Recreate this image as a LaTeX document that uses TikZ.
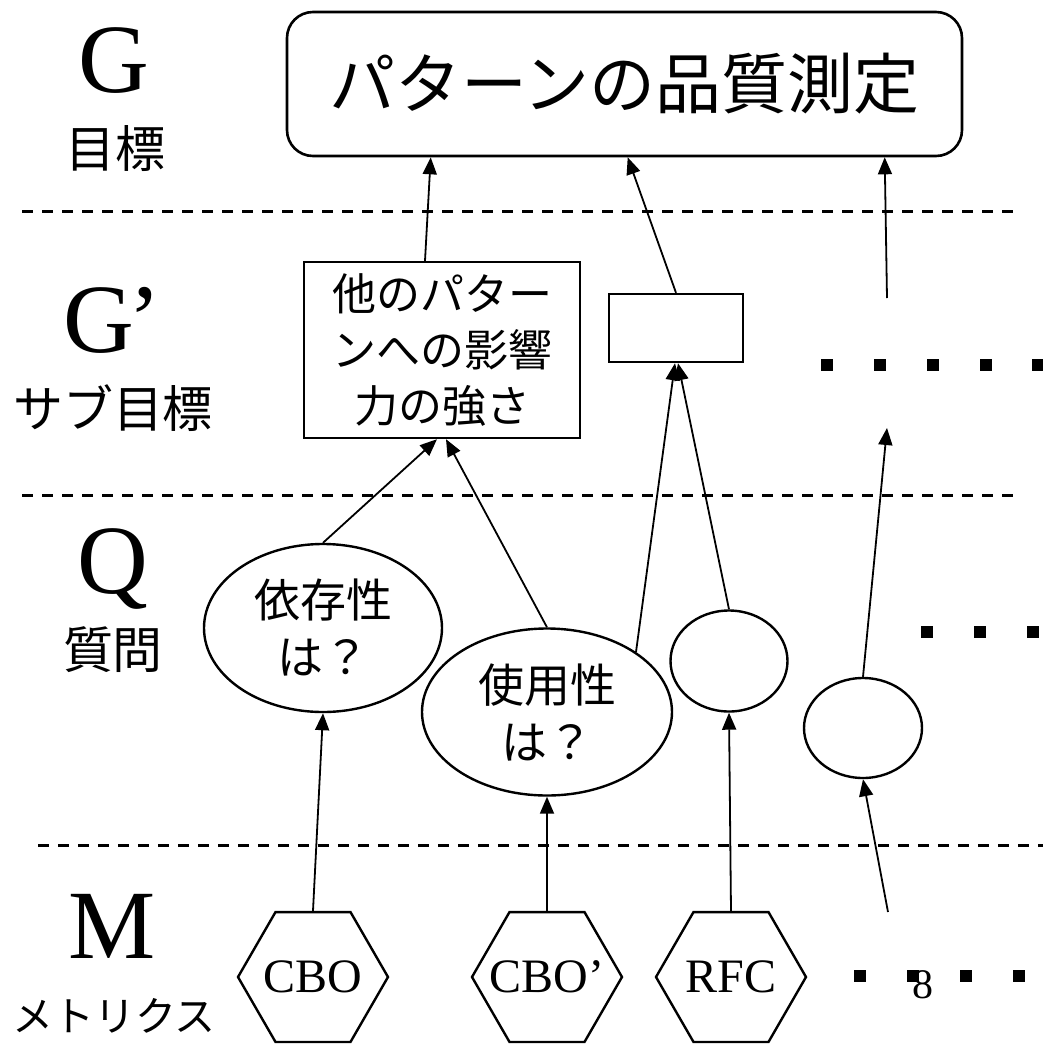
\documentclass[tikz,border=0pt]{standalone}
\usepackage{fontspec}
\setmainfont{Liberation Serif}
\newfontfamily\jpfont{Noto Sans CJK JP}
\usetikzlibrary{shapes.geometric,arrows.meta}
\tikzset{
  conn/.style={line width=1.8pt, -{Triangle[length=17pt,width=14pt]}},
  sepline/.style={line width=3pt, dash pattern=on 11pt off 9pt},
  qell/.style={ellipse, draw, line width=2.4pt, inner sep=0pt, align=center,
    font=\jpfont\fontsize{46}{57}\selectfont},
  hexa/.style={regular polygon, regular polygon sides=6, draw, line width=2.4pt,
    minimum size=150pt, inner sep=0pt, font=\fontsize{48}{50}\selectfont},
  lvl/.style={font=\fontsize{98}{100}\selectfont, anchor=base, inner sep=0pt},
  lvljp/.style={font=\jpfont\fontsize{50}{52}\selectfont, inner sep=0pt},
  sqdot/.style={fill=black},
}
\begin{document}
\begin{tikzpicture}[x=1pt,y=-1pt]
\useasboundingbox (0,0) rectangle (1043,1045);
% level separators
\draw[sepline] (22,211) -- (1022,211);
\draw[sepline] (22,495) -- (1022,495);
\draw[sepline] (38,845) -- (1043,845);
% level labels
\node[lvl] (lG) at (114,92) {G};
\node[lvljp] (lGjp) at (115,149) {目標};
\node[lvl] (lGp) at (112,352) {G\kern-6pt’};
\node[lvljp] (lGpjp) at (113,408) {サブ目標};
\node[lvl] (lQ) at (113,593) {Q};
\node[lvljp] (lQjp) at (113,650) {質問};
\node[lvl] (lM) at (112,958) {M};
\node[lvljp, font=\jpfont\fontsize{41}{43}\selectfont] (lMjp) at (114,1016) {メトリクス};
% goal
\node[draw, rounded corners=26pt, line width=2.6pt, minimum width=675pt, minimum height=144pt,
  inner sep=0pt, font=\jpfont\fontsize{66}{70}\selectfont] (goal) at (624.5,84) {パターンの品質測定};
% sub goals
\node[draw, line width=2.4pt, minimum width=276pt, minimum height=176pt, inner sep=0pt,
  align=center, font=\jpfont\fontsize{44}{56}\selectfont] (gp) at (442,350)
  {他のパター\\ンへの影響\\力の強さ};
\node[draw, line width=2.4pt, minimum width=134pt, minimum height=68pt, inner sep=0pt] (sr) at (676,328) {};
% questions
\node[qell, minimum width=238pt, minimum height=168pt] (e1) at (323,628) {依存性\\は？};
\node[qell, minimum width=250pt, minimum height=167pt] (e2) at (547,712) {使用性\\は？};
\node[qell, minimum width=117pt, minimum height=101pt] (e3) at (729,661) {};
\node[qell, minimum width=118pt, minimum height=100pt] (e4) at (863,728) {};
% metrics
\node[hexa] (cbo) at (313,977) {\makebox[0pt]{CBO}};
\node[hexa] (cbop) at (547,977) {\makebox[0pt]{CBO’}};
\node[hexa] (rfc) at (731,977) {\makebox[0pt]{RFC}};
% free ends
\coordinate (g3) at (887,298);
\coordinate (g4) at (887,428);
\coordinate (m4) at (888,912);
% connectors
\draw[conn] ([xshift=-17pt]gp.north) -- ([xshift=145pt]goal.south west);
\draw[conn] (sr.north) -- ([xshift=342pt]goal.south west);
\draw[conn] (g3) -- ([xshift=599pt]goal.south west);
\draw[conn] (e1.north) -- ([xshift=-5pt]gp.south);
\draw[conn] (e2.north) -- ([xshift=4pt]gp.south);
\draw[conn] (e2.34) -- ([xshift=-1pt]sr.south);
\draw[conn] (e3.north) -- ([xshift=2pt]sr.south);
\draw[conn] (e4.north) -- (g4);
\draw[conn] (cbo.north) -- (e1.south);
\draw[conn] (cbop.north) -- (e2.south);
\draw[conn] (rfc.north) -- (e3.south);
\draw[conn] (m4) -- (e4.south);
% ellipsis dots
\foreach \x in {827,880,933,986,1038} \fill[sqdot] (\x-6,359) rectangle ++(12,12);
\foreach \x in {927,980,1033} \fill[sqdot] (\x-6,626) rectangle ++(12,12);
\foreach \x in {860,913,966,1019} \fill[sqdot] (\x-6,970) rectangle ++(12,12);
% page number
\node[font=\fontsize{42}{44}\selectfont, inner sep=0pt] (pnum) at (923,985) {8};
\end{tikzpicture}
\end{document}
